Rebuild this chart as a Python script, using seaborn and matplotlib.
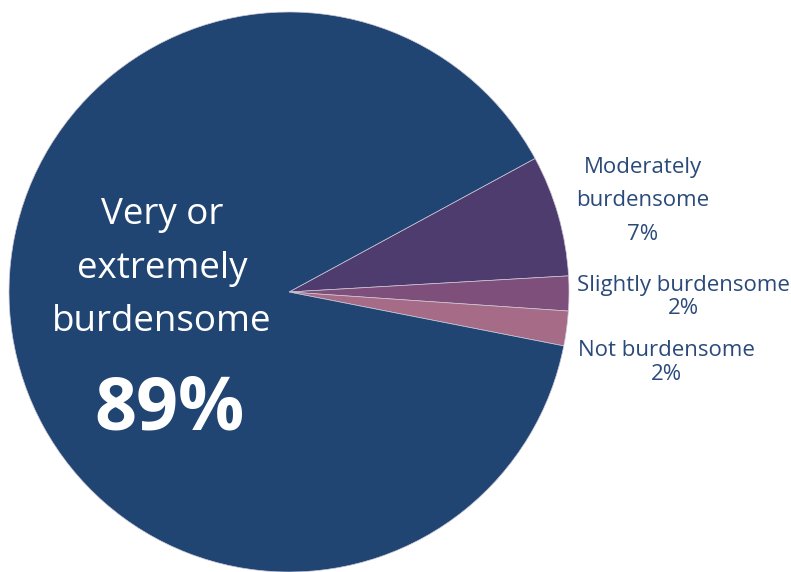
import matplotlib
matplotlib.use("Agg")
import matplotlib.pyplot as plt
import seaborn as sns

sns.set_theme(style="white")
plt.rcParams['font.family'] = ['Open Sans', 'DejaVu Sans']

categories = ["Moderately burdensome", "Slightly burdensome", "Not burdensome", "Very or extremely burdensome"]
values = [7, 2, 2, 89]
colors = ["#4F3C6E", "#7D4F7A", "#A66B87", "#204573"]

W, H = 791, 572
cx, cy, r = 289, 292, 280

fig = plt.figure(figsize=(W / 100, H / 100), dpi=100)
ax = fig.add_axes([0, 0, 1, 1])
ax.pie(values, colors=colors, startangle=28.5, counterclock=False,
       radius=1, center=(0, 0),
       wedgeprops=dict(edgecolor="#cfc8d8", linewidth=0.5))
ax.set_xlim(-cx / r, (W - cx) / r)
ax.set_ylim(-(H - cy) / r, cy / r)
ax.set_aspect('auto')
ax.axis('off')

def px(x, y):
    return ((x - cx) / r, (cy - y) / r)

txt = "#2A4A7A"
fs = 16
ax.text(*px(643, 168), "Moderately", ha='center', va='center', fontsize=fs, color=txt)
ax.text(*px(643, 201), "burdensome", ha='center', va='center', fontsize=fs, color=txt)
ax.text(*px(643, 235), "7%", ha='center', va='center', fontsize=fs, color=txt)
ax.text(*px(683, 285), "Slightly burdensome", ha='center', va='center', fontsize=fs, color=txt)
ax.text(*px(683, 308), "2%", ha='center', va='center', fontsize=fs, color=txt)
ax.text(*px(666, 351), "Not burdensome", ha='center', va='center', fontsize=fs, color=txt)
ax.text(*px(666, 375), "2%", ha='center', va='center', fontsize=fs, color=txt)

ax.text(*px(162, 215), "Very or", ha='center', va='center', fontsize=26.5, color="white")
ax.text(*px(162, 269), "extremely", ha='center', va='center', fontsize=26.5, color="white")
ax.text(*px(162, 322), "burdensome", ha='center', va='center', fontsize=26.5, color="white")
ax.text(*px(169, 410), "89%", ha='center', va='center', fontsize=53, color="white", fontweight='bold')

fig.savefig("out.png", dpi=100)
